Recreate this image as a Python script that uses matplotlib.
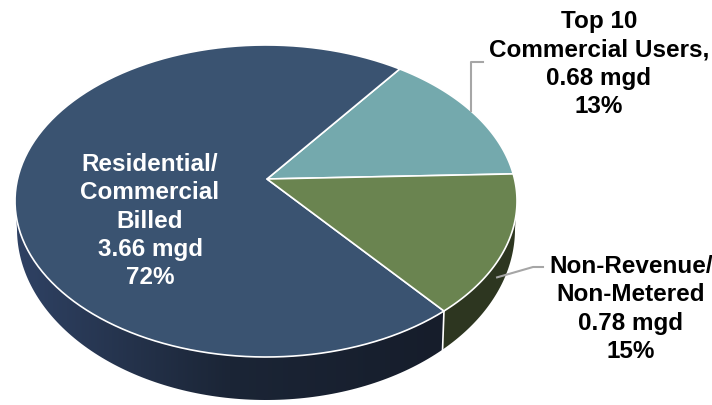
import numpy as np
import matplotlib.pyplot as plt
from matplotlib.patches import Polygon
from matplotlib.colors import LinearSegmentedColormap

plt.rcParams['font.family'] = ['Liberation Sans', 'DejaVu Sans']

# slices, counter-clockwise starting with the teal wedge
labels = ['Top 10\nCommercial Users,', 'Residential/\nCommercial\nBilled', 'Non-Revenue/\nNon-Metered']
mgd = [0.68, 3.66, 0.78]
pct = [13, 72, 15]
top_colors = ['#74A9AD', '#3A5371', '#6A8450']
text_colors = ['black', 'white', 'black']

W, H = 712, 405
CX, CY, A, B = 266, 201, 251, 156      # top face ellipse (pixels)
BCY, BA, BB = 229, 249, 171            # lower rim ellipse
APEX = (267, 179)
START = 10


def top_pt(t):
    t = np.radians(t)
    return CX + A * np.cos(t), CY - B * np.sin(t)


def bot_pt(t):
    t = np.radians(t)
    return CX + BA * np.cos(t), BCY - BB * np.sin(t)


def arc(fn, t0, t1, n=120):
    ts = np.linspace(t0, t1, n)
    x, y = fn(ts)
    return np.column_stack([x, y])


fig = plt.figure(figsize=(W / 100, H / 100), dpi=100)
ax = fig.add_axes([0, 0, 1, 1])
ax.set_xlim(0, W)
ax.set_ylim(H, 0)
ax.axis('off')

frac = np.array(mgd) / sum(mgd)
bounds = START + np.concatenate([[0], np.cumsum(frac)]) * 360

# side walls (only the front half, 180..360 deg)
blue_cmap = LinearSegmentedColormap.from_list('side', ['#2F4264', '#1B2536', '#161D2B'])
for i in range(3):
    t0, t1 = max(bounds[i], 180), min(bounds[i + 1], 360)
    if t1 <= t0:
        continue
    pts = np.vstack([arc(top_pt, t0, t1), arc(bot_pt, t1, t0)])
    if i == 1:
        poly = Polygon(pts, closed=True, facecolor='none', edgecolor='none')
        ax.add_patch(poly)
        grad = np.linspace(0, 1, 256).reshape(1, -1)
        im = ax.imshow(grad, cmap=blue_cmap, aspect='auto',
                       extent=[CX - A, CX + A * np.cos(np.radians(t1)), H, 150], zorder=1)
        im.set_clip_path(poly)
    else:
        ax.add_patch(Polygon(pts, closed=True, facecolor='#2D3620', edgecolor='none', zorder=1))

# white seam on the side between blue and green
sx0, sy0 = top_pt(bounds[2])
sx1, sy1 = bot_pt(bounds[2])
ax.plot([sx0, sx1], [sy0, sy1], color='white', lw=1.2, zorder=2)

# top face wedges
for i in range(3):
    pts = np.vstack([[APEX], arc(top_pt, bounds[i], bounds[i + 1])])
    ax.add_patch(Polygon(pts, closed=True, facecolor=top_colors[i], edgecolor='white',
                         lw=1.2, joinstyle='round', zorder=3))

# leader lines
lx, ly = top_pt((bounds[0] + bounds[1]) / 2)
ax.plot([lx - 3, lx - 3, lx + 9], [ly - 3, 62, 62], color='#A6A6A6', lw=1.5, zorder=4)
mt = (bounds[2] + 360) / 2
gx = (top_pt(mt)[0] + bot_pt(mt)[0]) / 2
gy = (top_pt(mt)[1] + bot_pt(mt)[1]) / 2
ax.plot([gx, 533, 543], [gy, 267, 267], color='#A6A6A6', lw=1.5, zorder=4)

# labels
label_pos = [(599, 64), (150, 221), (631, 309)]
for i in range(3):
    txt = '%s\n%.2f mgd\n%d%%' % (labels[i], mgd[i], pct[i])
    ax.text(label_pos[i][0], label_pos[i][1], txt, ha='center', va='center',
            color=text_colors[i], fontsize=17.5, fontweight='bold', linespacing=1.28, zorder=5)

fig.savefig('out.png', dpi=100)
